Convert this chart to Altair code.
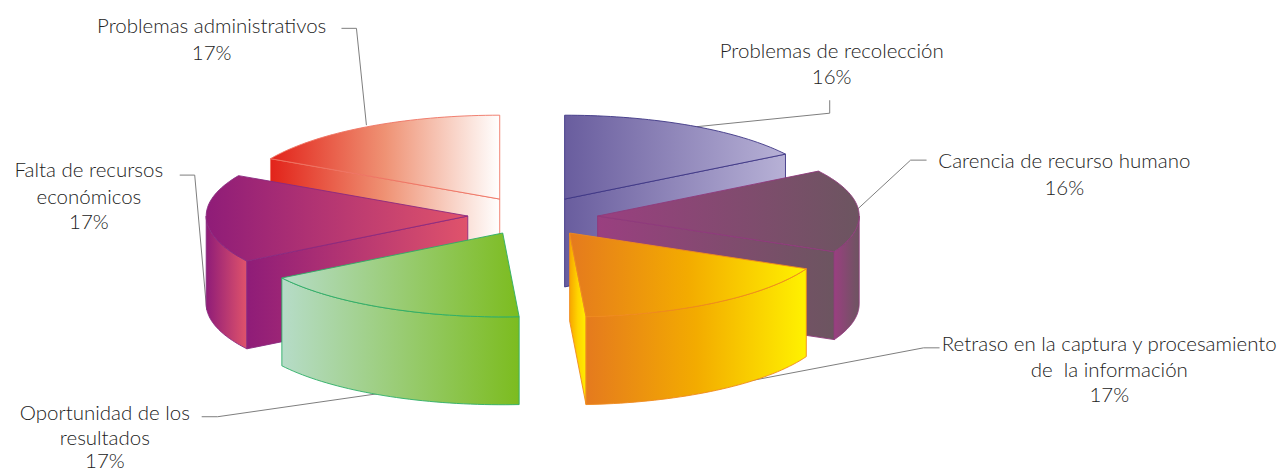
import math
import altair as alt
import pandas as pd

# Values
categories = ["Problemas de recolección", "Carencia de recurso humano",
              "Retraso en la captura y procesamiento", "Oportunidad de los resultados",
              "Falta de recursos económicos", "Problemas administrativos"]
shares = [16, 16, 17, 17, 17, 17]

# Exploded-pie geometry: centre of each wedge's top face, ellipse radii, wall height
center_x = [565.5, 598.5, 570.5, 503.5, 468.5, 500.5]
center_y = [199, 216, 233, 233, 216, 199]
RX, RY, WALL = 262, 84, 88

# fill stops: [left, (mid), right], stroke
RAMP = {
    0: (["#695d9e", "#b7b1d6"], "#3d3585"),
    1: (["#9a3f80", "#6c5560"], "#8f3a7c"),
    2: (["#e57a1e", "#f3ab00", "#fff200"], "#ef8a1e"),
    3: (["#b6dcc8", "#7cbc1f"], "#2cae66"),
    4: (["#8f1c78", "#e0536b"], "#8a2a80"),
    5: (["#e2231a", "#ef9274", "#ffffff"], "#ee7463"),
}

# labels: text lines, x centre, baselines
label_lines = [["Problemas de recolección", "16%"],
               ["Carencia de recurso humano", "16%"],
               ["Retraso en la captura y procesamiento", "de\u00a0\u00a0la información", "17%"],
               ["Oportunidad de los", "resultados", "17%"],
               ["Falta de recursos", "económicos", "17%"],
               ["Problemas administrativos", "17%"]]
label_x = [833, 1066, 1111, 105, 89, 212]
label_y = [[58, 84], [168, 195], [351, 377, 402], [420, 445, 468], [177, 204, 229], [33, 60]]

leader_x = [[693, 831, 831], [859, 912, 928], [720, 925, 941], [385, 218, 202], [207, 195, 180], [367, 357, 342]]
leader_y = [[127, 113, 100], [209, 160, 160], [387, 348, 348], [393, 417, 417], [310, 175, 175], [125, 28, 28]]

# start/end angles from the shares, clockwise from twelve o'clock
starts, ends, acc = [], [], 0.0
for s in shares:
    starts.append(acc * 3.6)
    acc += s
    ends.append(acc * 3.6)


def rim(k, a, down=0):
    r = math.radians(a)
    return center_x[k] + RX * math.sin(r), center_y[k] - RY * math.cos(r) + down


def arc(k, a0, a1, down=0):
    n = 40
    return [rim(k, a0 + (a1 - a0) * i / n, down) for i in range(n + 1)]


def top_face(k):
    c = (center_x[k], center_y[k])
    return [c] + arc(k, starts[k], ends[k]) + [c]


def outer_wall(k, a0, a1):
    up = arc(k, a0, a1)
    down = arc(k, a1, a0, WALL)
    return up + down + [up[0]]


def cut_wall(k, a):
    c = (center_x[k], center_y[k])
    e = rim(k, a)
    return [c, e, (e[0], e[1] + WALL), (c[0], c[1] + WALL), c]


X = alt.X("x:Q", axis=None, scale=alt.Scale(domain=[8, 1278], nice=False, zero=False))
Y = alt.Y("y:Q", axis=None, scale=alt.Scale(domain=[462, 8], nice=False, zero=False))


def grad(colors):
    n = len(colors) - 1
    return alt.Gradient(gradient="linear", x1=0, y1=0, x2=1, y2=0,
                        stops=[alt.GradientStop(color=c, offset=i / n) for i, c in enumerate(colors)])


def face(pts, colors, stroke, width=0.9):
    df = pd.DataFrame({"x": [p[0] for p in pts], "y": [p[1] for p in pts], "i": range(len(pts))})
    return alt.Chart(df).mark_line(fill=grad(colors), stroke=stroke, strokeWidth=width,
                                   strokeJoin="round").encode(x=X, y=Y, order="i:Q")


layers = []

# leader lines sit behind the wedges
for lx, ly in zip(leader_x, leader_y):
    df = pd.DataFrame({"x": lx, "y": ly, "i": range(len(lx))})
    layers.append(alt.Chart(df).mark_line(color="#7d7d7d", strokeWidth=1).encode(x=X, y=Y, order="i:Q"))

PAINT = [
    (5, [("cut", starts[5]), ("top", None)]),
    (0, [("cut", ends[0]), ("top", None)]),
    (4, [("outer", (270, starts[4])), ("cut", starts[4]), ("top", None)]),
    (1, [("cut", ends[1]), ("outer", (90, ends[1])), ("top", None)]),
    (3, [("outer", (starts[3], ends[3])), ("top", None)]),
    (2, [("cut", ends[2]), ("outer", (starts[2], ends[2])), ("top", None)]),
]
for k, parts in PAINT:
    colors, stroke = RAMP[k]
    for kind, arg in parts:
        if kind == "top":
            layers.append(face(top_face(k), colors, stroke))
        elif kind == "cut":
            c = colors
            if k == 2:
                c = ["#f7a600", "#ffd400", "#ffed00"]
            layers.append(face(cut_wall(k, arg), c, stroke))
        else:
            layers.append(face(outer_wall(k, *arg), colors, stroke))

rows = []
for lines, cx, ys in zip(label_lines, label_x, label_y):
    for t, yy in zip(lines, ys):
        rows.append({"x": cx, "y": yy, "t": t})
layers.append(alt.Chart(pd.DataFrame(rows)).mark_text(
    font="Lato", fontSize=20.5, fontWeight=300, color="#222222", align="center", baseline="alphabetic"
).encode(x=X, y=Y, text="t:N"))

chart = alt.layer(*layers).properties(width=1270, height=454, padding=0).configure_view(strokeWidth=0)
chart.save("out.html", embed_options={"renderer": "svg", "actions": False})
